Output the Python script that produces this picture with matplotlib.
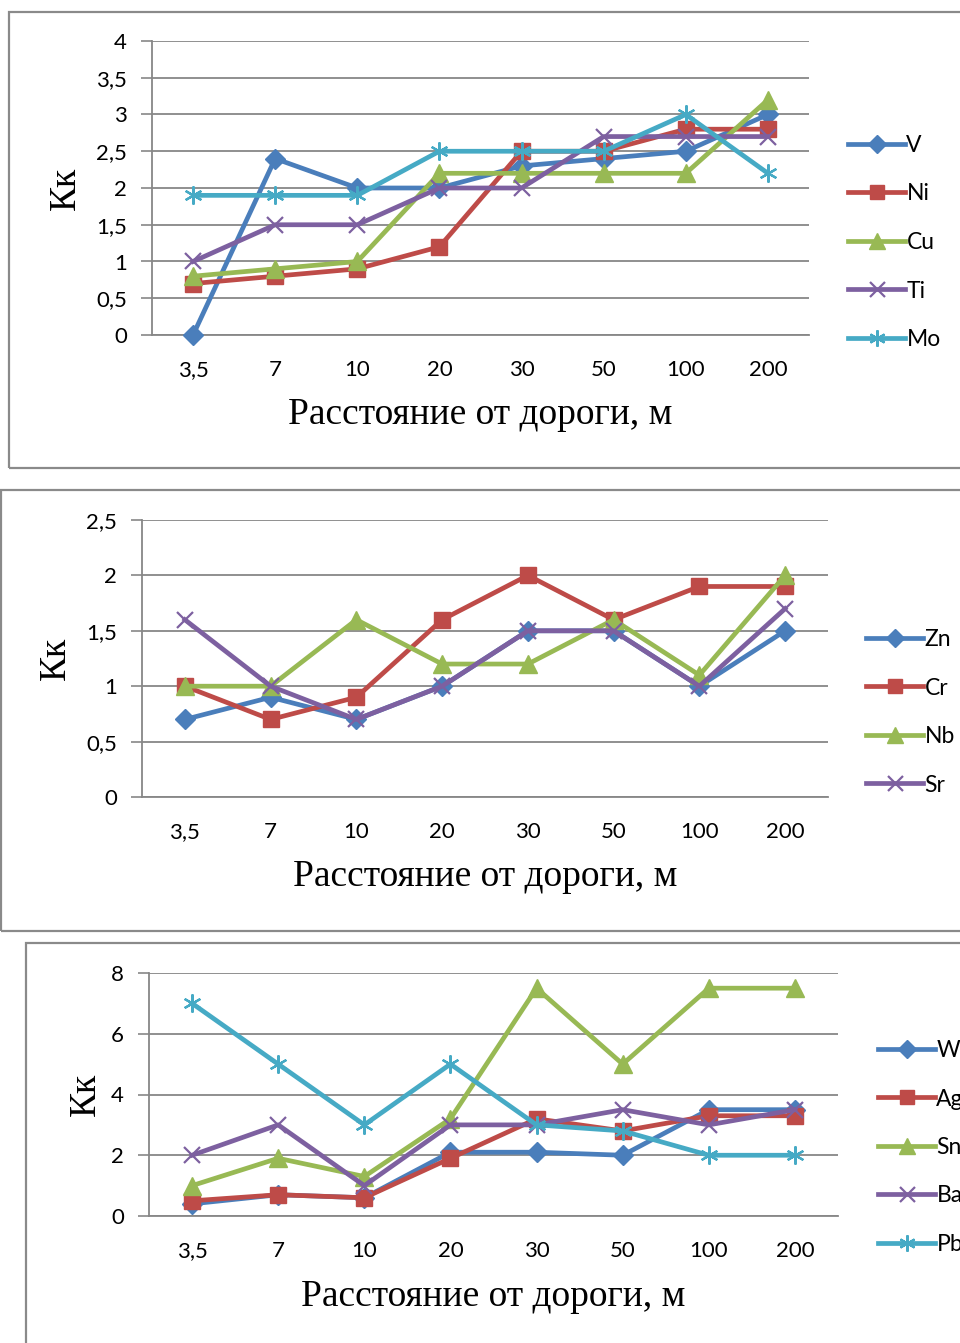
import matplotlib
matplotlib.use("Agg")
import matplotlib.pyplot as plt
from matplotlib.patches import Rectangle

categories = ["3,5", "7", "10", "20", "30", "50", "100", "200"]

# Panel 1
p1_names = ["V", "Ni", "Cu", "Ti", "Mo"]
V = [0.0, 2.4, 2.0, 2.0, 2.3, 2.4, 2.5, 3.0]
Ni = [0.7, 0.8, 0.9, 1.2, 2.5, 2.5, 2.8, 2.8]
Cu = [0.8, 0.9, 1.0, 2.2, 2.2, 2.2, 2.2, 3.2]
Ti = [1.0, 1.5, 1.5, 2.0, 2.0, 2.7, 2.7, 2.7]
Mo = [1.9, 1.9, 1.9, 2.5, 2.5, 2.5, 3.0, 2.2]

# Panel 2
p2_names = ["Zn", "Cr", "Nb", "Sr"]
Zn = [0.7, 0.9, 0.7, 1.0, 1.5, 1.5, 1.0, 1.5]
Cr = [1.0, 0.7, 0.9, 1.6, 2.0, 1.6, 1.9, 1.9]
Nb = [1.0, 1.0, 1.6, 1.2, 1.2, 1.6, 1.1, 2.0]
Sr = [1.6, 1.0, 0.7, 1.0, 1.5, 1.5, 1.0, 1.7]

# Panel 3
p3_names = ["W", "Ag", "Sn", "Ba", "Pb"]
W = [0.4, 0.7, 0.6, 2.1, 2.1, 2.0, 3.5, 3.5]
Ag = [0.5, 0.7, 0.6, 1.9, 3.2, 2.8, 3.3, 3.3]
Sn = [1.0, 1.9, 1.3, 3.2, 7.5, 5.0, 7.5, 7.5]
Ba = [2.0, 3.0, 1.0, 3.0, 3.0, 3.5, 3.0, 3.5]
Pb = [7.0, 5.0, 3.0, 5.0, 3.0, 2.8, 2.0, 2.0]

y_ticks1 = [0, 0.5, 1, 1.5, 2, 2.5, 3, 3.5, 4]
y_ticks2 = [0, 0.5, 1, 1.5, 2, 2.5]
y_ticks3 = [0, 2, 4, 6, 8]

colors = ["#4A7EBB", "#BE4B48", "#98B954", "#7D60A0", "#46AAC5"]
markers = ["D", "s", "^", "x", (6, 2, 0)]
msizes = [10.5, 11.5, 12.5, 12, 13]

W_PX, H_PX = 960, 1343
DPI = 100
fig = plt.figure(figsize=(W_PX / DPI, H_PX / DPI), dpi=DPI)

GRID = "#878787"
TICKFONT = ["Lato", "DejaVu Sans"]
SERIF = ["Liberation Serif", "DejaVu Serif"]


def fx(px):
    return px / W_PX


def fy(py):
    return 1 - py / H_PX


def frame(x0, y0, x1, y1):
    r = Rectangle((fx(x0), fy(y1)), fx(x1) - fx(x0), fy(y0) - fy(y1),
                  transform=fig.transFigure, fill=False, edgecolor="#8a8a8a",
                  linewidth=1.6, clip_on=False)
    fig.patches.append(r)


def panel(left, right, top, bottom, series, names, yticks, ylabel_x, xlabel_y,
          xlabel_x, leg_x, leg_y):
    ax = fig.add_axes([fx(left), fy(bottom), fx(right) - fx(left), fy(top) - fy(bottom)])
    x = list(range(len(categories)))
    for i, (vals, name) in enumerate(zip(series, names)):
        m = markers[i]
        thin = m == "x" or isinstance(m, tuple)
        ax.plot(x, vals, color=colors[i], linewidth=3.4, marker=m,
                markersize=msizes[i], markeredgewidth=1.6 if thin else 1.0,
                markeredgecolor=colors[i], markerfacecolor=colors[i],
                label=name, clip_on=False, zorder=3 + i)
    ax.set_xlim(-0.5, len(categories) - 0.5)
    ax.set_ylim(yticks[0], yticks[-1])
    ax.set_yticks(yticks)
    ax.set_yticklabels([str(t).replace(".", ",") if not float(t).is_integer() else str(int(t)) for t in yticks],
                       fontsize=16, family=TICKFONT)
    ax.set_xticks(x)
    ax.set_xticklabels(categories, fontsize=16, family=TICKFONT)
    ax.tick_params(axis="x", length=0, pad=18)
    ax.tick_params(axis="y", length=8, width=1.2, color=GRID, pad=10)
    ax.grid(axis="y", color=GRID, linewidth=1.3)
    ax.set_axisbelow(True)
    for s in ["top", "right"]:
        ax.spines[s].set_visible(False)
    ax.spines["left"].set_color(GRID)
    ax.spines["left"].set_linewidth(1.3)
    ax.spines["bottom"].set_color(GRID)
    ax.spines["bottom"].set_linewidth(1.3)
    fig.text(fx(xlabel_x), fy(xlabel_y), "Расстояние от дороги, м", ha="center",
             va="center", fontsize=27, family=SERIF)
    fig.text(fx(ylabel_x), fy((top + bottom) / 2), "Кк", ha="center", va="center",
             rotation=90, fontsize=27, family=SERIF)
    leg = ax.legend(loc="upper left", bbox_to_anchor=(fx(leg_x), fy(leg_y)),
                    bbox_transform=fig.transFigure, frameon=False,
                    prop={"family": TICKFONT, "size": 16.5}, handlelength=2.5,
                    handletextpad=0.05, labelspacing=1.2, borderaxespad=0,
                    borderpad=0)
    for h in leg.legend_handles:
        h.set_markersize(h.get_markersize() * 0.9)
    return ax


frame(9, 12, 975, 468)
frame(1, 490, 975, 931)
frame(26, 943, 975, 1360)

panel(152, 809, 41, 335, [V, Ni, Cu, Ti, Mo], p1_names, y_ticks1,
      ylabel_x=66, xlabel_y=415, xlabel_x=480, leg_x=848, leg_y=135)
panel(142, 828, 520, 797, [Zn, Cr, Nb, Sr], p2_names, y_ticks2,
      ylabel_x=56, xlabel_y=877, xlabel_x=485, leg_x=866, leg_y=629)
panel(149, 838, 973, 1216, [W, Ag, Sn, Ba, Pb], p3_names, y_ticks3,
      ylabel_x=86, xlabel_y=1297, xlabel_x=493, leg_x=878, leg_y=1040)

fig.savefig("out.png", dpi=DPI)
